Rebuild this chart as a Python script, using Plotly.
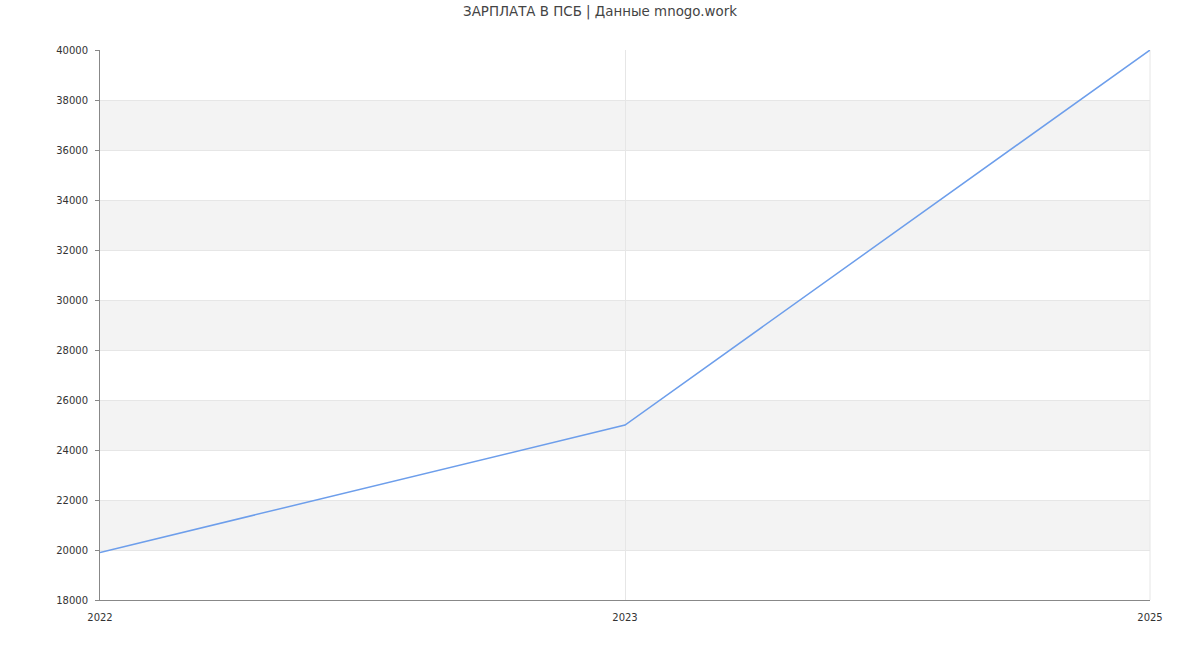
import plotly.graph_objects as go

years = ["2022", "2023", "2025"]
salary = [19900, 25000, 40000]
y_ticks = list(range(18000, 40001, 2000))
title = "ЗАРПЛАТА В ПСБ | Данные mnogo.work"

fig = go.Figure()
fig.add_trace(go.Scatter(
    x=years, y=salary, mode="lines",
    line=dict(color="#6d9eeb", width=1.5),
    hoverinfo="x+y",
))

shapes = []
for i, t in enumerate(y_ticks[:-1]):
    if i % 2 == 1:
        shapes.append(dict(type="rect", xref="paper", yref="y", x0=0, x1=1,
                           y0=t, y1=y_ticks[i + 1], fillcolor="#f3f3f3",
                           line=dict(width=0), layer="below"))

fig.update_layout(
    width=1200, height=650,
    margin=dict(l=100, r=50, t=50, b=50),
    paper_bgcolor="white", plot_bgcolor="white",
    font=dict(family="DejaVu Sans", size=11, color="#333333"),
    title=dict(text=title, x=0.5, xanchor="center", y=0.982, yanchor="middle",
               font=dict(family="DejaVu Sans", size=13.4, color="#444444")),
    showlegend=False,
    shapes=shapes,
    xaxis=dict(type="category", range=[0, len(years) - 1],
               showgrid=True, gridcolor="#e6e6e6", gridwidth=1,
               showline=True, linecolor="#888888", linewidth=1,
               ticks="", ticklen=0, ticklabelstandoff=8,
               tickfont=dict(size=10), fixedrange=True, zeroline=False),
    yaxis=dict(range=[18000, 40000], tickvals=y_ticks,
               ticktext=[str(v) for v in y_ticks],
               showgrid=True, gridcolor="#e6e6e6", gridwidth=1,
               showline=True, linecolor="#888888", linewidth=1,
               ticks="outside", ticklen=4, tickcolor="#888888",
               ticklabelstandoff=5,
               tickfont=dict(size=10), zeroline=False, fixedrange=True),
)
fig.add_shape(type="line", xref="paper", yref="paper", x0=1, x1=1, y0=0, y1=1,
              line=dict(color="#e6e6e6", width=1), layer="below")

fig.write_html("out.html")
